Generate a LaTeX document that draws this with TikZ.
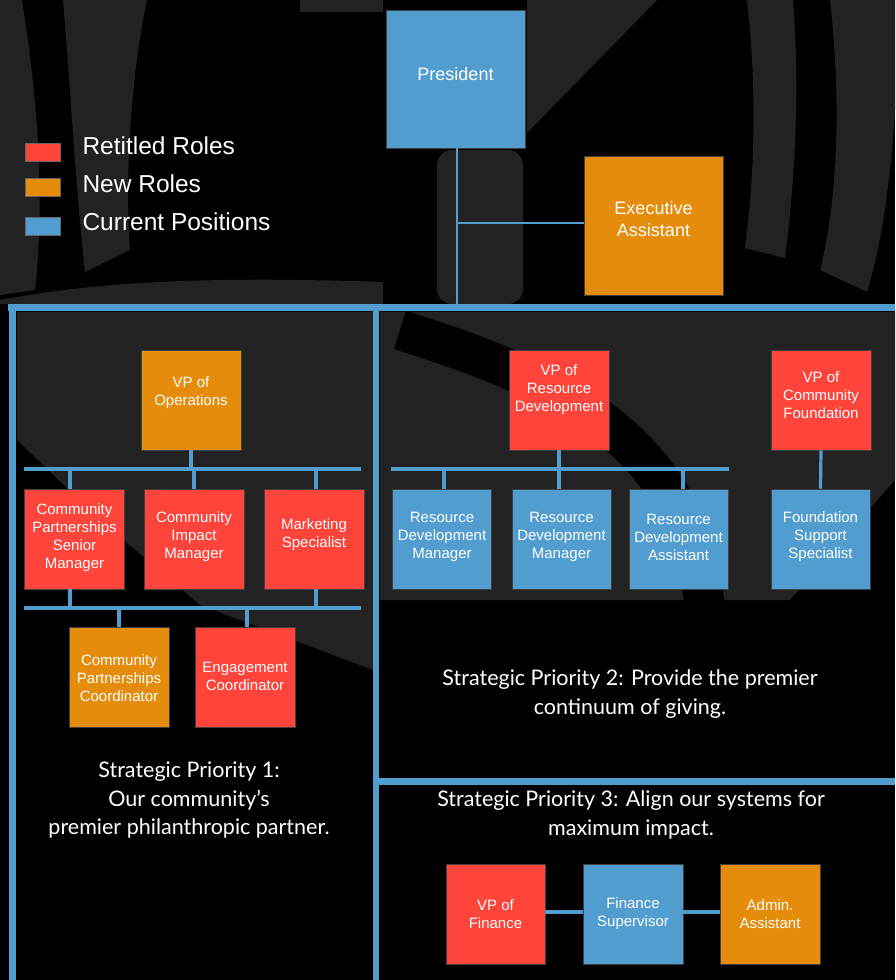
\documentclass[tikz,border=0pt]{standalone}
\usepackage{fontspec}
\setmainfont{Liberation Sans}
\newfontfamily\spfont{Lato}
\definecolor{cblue}{HTML}{529DCF}
\definecolor{corange}{HTML}{E58C0C}
\definecolor{cred}{HTML}{FE443B}
\definecolor{bggray}{HTML}{222222}
\begin{document}
\begin{tikzpicture}[x=1pt,y=-1pt,
  box/.style={draw=black!75, line width=0.8pt, minimum width=100pt, minimum height=100pt, inner sep=0pt, fill=#1},
  bigbox/.style={box=#1, minimum width=139pt, minimum height=138pt},
  txt/.style={text=white, align=center, font=\fontsize{15}{18}\selectfont},
  bigtxt/.style={text=white, align=center, font=\fontsize{18}{22}\selectfont},
  conn/.style={draw=cblue, line width=3.2pt},
  frame/.style={draw=cblue, line width=7pt},
  legsq/.style={draw=black!60, line width=0.6pt, minimum width=35pt, minimum height=18pt, inner sep=0pt, fill=#1},
  legtxt/.style={text=white, anchor=west, font=\fontsize{24.5}{28}\selectfont},
  prio/.style={text=white, align=center, font=\spfont\fontsize{21.5}{28.5}\selectfont}
]
\useasboundingbox (0,0) rectangle (895,980);
\fill[black] (0,0) rectangle (895,980);
% background logo shapes (approximate)
\fill[bggray] (0,0) -- (22,0) .. controls (38,100) and (45,200) .. (35,290) -- (0,295) -- cycle;
\fill[bggray] (63,0) -- (147,0) .. controls (130,80) and (125,180) .. (130,250) -- (85,272) .. controls (75,180) and (70,80) .. (63,0) -- cycle;
\fill[bggray] (300,0) -- (383,0) -- (383,12) -- (300,12) -- cycle;
\fill[bggray] (0,300) .. controls (80,285) and (180,275) .. (383,282) -- (383,304) -- (0,304) -- cycle;
\fill[bggray, rounded corners=15pt] (437,150) rectangle (523,304);
\fill[bggray] (527,0) -- (657,0) -- (527,133) -- cycle;
\fill[bggray] (747,0) -- (793,0) .. controls (800,90) and (795,180) .. (785,258) -- (745,248) .. controls (755,170) and (757,90) .. (747,0) -- cycle;
\fill[bggray] (830,0) -- (895,0) -- (895,110) .. controls (890,190) and (880,250) .. (867,292) -- (820,270) .. controls (840,190) and (840,90) .. (830,0) -- cycle;
\fill[bggray] (17,312) -- (373,312) -- (373,670) -- (200,605) -- (100,520) -- (17,440) -- cycle;
\fill[bggray] (380,312) -- (895,312) -- (895,480) -- (790,600) -- (380,600) -- cycle;
\draw[black, line width=40pt] (400,330) .. controls (560,380) and (690,440) .. (705,610);
% frame
\draw[frame] (8,307.5) -- (895,307.5);
\draw[frame] (12.5,304) -- (12.5,980);
\draw[draw=cblue, line width=6pt] (376,306) -- (376,980);
\draw[frame] (376,781) -- (895,781);
% legend
\node[legsq=cred] (lr) at (42.5,152) {};
\node[legsq=corange] (lo) at (42.5,187) {};
\node[legsq=cblue] (lb) at (42.5,226) {};
\node[legtxt] (tr) at (79,146) {Retitled Roles};
\node[legtxt] (to) at (79,184) {New Roles};
\node[legtxt] (tb) at (79,222) {Current Positions};
% top
\node[bigbox=cblue] (pres) at (455.5,79) {};
\node[bigtxt] at ([yshift=5pt]pres.center) {President};
\node[bigbox=corange, minimum height=139pt] (ea) at (653.5,225.5) {};
\node[bigtxt] at ([yshift=6pt]ea.center) {Executive\\Assistant};
\coordinate (pj) at (457,223);
\coordinate (pb) at (457,304);
\draw[draw=cblue, line width=2.8pt] (pres.south -| pb) -- (pb);
\draw[draw=cblue, line width=2.8pt] (pj) -- (ea.west |- pj);
% left panel
\node[box=corange] (vpo) at (191,400) {};
\node[txt] at ([yshift=7pt]vpo.center) {VP of\\Operations};
\node[box=cred] (cpsm) at (74.5,539) {};
\node[txt] at ([yshift=1pt]cpsm.center) {Community\\Partnerships\\Senior\\Manager};
\node[box=cred] (cim) at (194,539) {};
\node[txt] at ([yshift=2pt]cim.center) {Community\\Impact\\Manager};
\node[box=cred] (ms) at (314,539) {};
\node[txt] at ([yshift=4pt]ms.center) {Marketing\\Specialist};
\node[box=corange] (cpc) at (119,677) {};
\node[txt] at ([yshift=-1pt]cpc.center) {Community\\Partnerships\\Coordinator};
\node[box=cred] (ec) at (245,677) {};
\node[txt] at ([yshift=1pt]ec.center) {Engagement\\Coordinator};
\coordinate (b1l) at (24,469);
\coordinate (b1r) at (361,469);
\coordinate (b2l) at (24,608);
\coordinate (b2r) at (361,608);
\draw[conn] (b1l) -- (b1r);
\draw[conn] (b2l) -- (b2r);
\draw[conn] (vpo.south) -- (vpo.south |- b1l);
\draw[conn] (70,469) -- (70,489);
\draw[conn] (cim.north) -- (cim.north |- b1l);
\draw[conn] (316,469) -- (316,489);
\draw[conn] (70,589) -- (70,608);
\draw[conn] (316,589) -- (316,608);
\draw[conn] (cpc.north) -- (cpc.north |- b2l);
\draw[conn] (247,608) -- (247,627);
\node[prio] (p1) at (189,800) {Strategic Priority 1:\\Our community’s\\premier philanthropic partner.};
% right panel
\node[box=cred] (vprd) at (559,400) {};
\node[txt] at ([yshift=10pt]vprd.center) {VP of\\Resource\\Development};
\node[box=cred] (vpcf) at (821,400) {};
\node[txt] at ([yshift=5pt]vpcf.center) {VP of\\Community\\Foundation};
\node[box=cblue, minimum width=99pt] (rdm1) at (442,539) {};
\node[txt] at ([yshift=2pt]rdm1.center) {Resource\\Development\\Manager};
\node[box=cblue, minimum width=99pt] (rdm2) at (561.5,539) {};
\node[txt] at ([yshift=2pt]rdm2.center) {Resource\\Development\\Manager};
\node[box=cblue, minimum width=99pt] (rda) at (678.5,539) {};
\node[txt] at ([yshift=2pt]rda.center) {Resource\\Development\\Assistant};
\node[box=cblue, minimum width=99pt] (fss) at (820.5,539) {};
\node[txt] at ([yshift=2pt]fss.center) {Foundation\\Support\\Specialist};
\coordinate (b3l) at (391,469);
\coordinate (b3r) at (729,469);
\draw[conn] (b3l) -- (b3r);
\draw[conn] (vprd.south) -- (vprd.south |- b3l);
\draw[conn] (444,469) -- (444,489);
\draw[conn] (559,469) -- (559,489);
\draw[conn] (683,469) -- (683,489);
\draw[conn] (vpcf.south) -- (fss.north);
\node[prio] (p2) at (630,694) {Strategic Priority 2: Provide the premier\\continuum of giving.};
% bottom right
\node[prio] (p3) at (631,815) {Strategic Priority 3: Align our systems for\\maximum impact.};
\node[box=cred, minimum width=99pt] (vpf) at (495.5,914) {};
\node[txt] at ([yshift=0pt]vpf.center) {VP of\\Finance};
\node[box=cblue] (fs) at (633,914) {};
\node[txt] at ([yshift=0pt]fs.center) {Finance\\Supervisor};
\node[box=corange] (aa) at (770,914) {};
\node[txt] at ([yshift=0pt]aa.center) {Admin.\\Assistant};
\draw[conn] (vpf.east |- 0,912) -- (fs.west |- 0,912);
\draw[conn] (fs.east |- 0,912) -- (aa.west |- 0,912);
\end{tikzpicture}
\end{document}
